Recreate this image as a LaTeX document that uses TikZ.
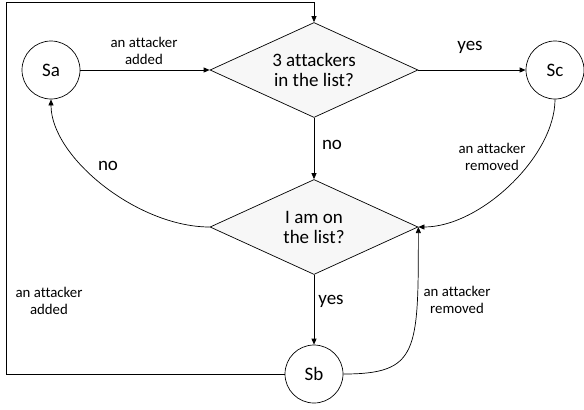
\documentclass[tikz,border=0pt]{standalone}
\usepackage{fontspec}
\setmainfont{Carlito}[Ligatures=NoCommon]
\usetikzlibrary{shapes.geometric,arrows.meta}
\definecolor{dfill}{RGB}{247,247,247}
\begin{document}
\begin{tikzpicture}[x=1bp,y=-1bp,line width=0.7bp,
  state/.style={circle,draw,minimum size=58bp,inner sep=0pt,font=\fontsize{19bp}{20bp}\selectfont},
  decision/.style={diamond,draw,fill=dfill,minimum width=208bp,minimum height=95bp,inner sep=0pt,aspect=2.2,align=center,font=\fontsize{19bp}{20bp}\selectfont},
  big/.style={font=\fontsize{19bp}{20bp}\selectfont},
  small/.style={align=center,font=\fontsize{14.8bp}{17bp}\selectfont},
  arr/.style={-{Triangle[length=6bp,width=5bp]}}]
\useasboundingbox (0,0) rectangle (584,409);
\node[state] (Sa) at (51,70) {Sa};
\node[decision] (d1) at (314,70) {3 attackers\\in the list?};
\node[state] (Sc) at (555,70) {Sc};
\node[decision] (d2) at (314,227) {I am on\\the list?};
\node[state] (Sb) at (314,374) {Sb};
\coordinate (tl) at (6,2);

\draw[arr] (Sa.east) -- (d1.west);
\draw[arr] (d1.east) -- (Sc.west);
\draw[arr] (d1.south) -- (d2.north);
\draw[arr] (d2.south) -- (Sb.north);
\draw[arr] (Sb.west) -| (tl) -| (d1.north);
\draw[arr] (Sc.south) .. controls +(0,57) and +(62,0) .. (d2.east);
\draw[arr] (Sb.east) .. controls +(75,0) and +(0,125) .. (d2.east);
\draw[arr] (d2.west) .. controls +(-72,0) and +(0,58) .. (Sa.south);

\node[small] (l1) at (144,51) {an attacker\\added};
\node[big] (l2) at (470,47) {yes};
\node[big] (l3) at (332,145) {no};
\node[small] (l4) at (492,157) {an attacker\\removed};
\node[big] (l5) at (108,166) {no};
\node[small] (l6) at (49,301) {an attacker\\added};
\node[big] (l7) at (331,301) {yes};
\node[small] (l8) at (457,300) {an attacker\\removed};
\end{tikzpicture}
\end{document}
